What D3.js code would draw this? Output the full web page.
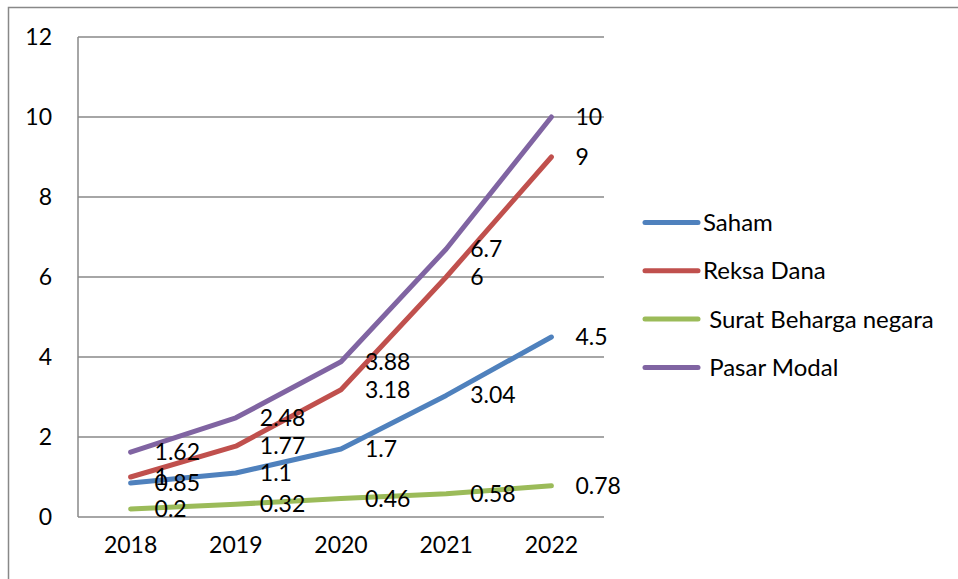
<!DOCTYPE html>
<meta charset="utf-8">
<style>
  body { margin: 0; background: #fff; }
  svg text { font-family: Lato, "Open Sans", sans-serif; fill: #000; }
  .grid line { stroke: #888; stroke-width: 1.5; }
  .series { fill: none; stroke-width: 5; stroke-linecap: round; stroke-linejoin: round; }
</style>
<body>
<script src="https://d3js.org/d3.v7.min.js"></script>
<script>
var years = ["2018", "2019", "2020", "2021", "2022"];
var saham = [0.85, 1.1, 1.7, 3.04, 4.5];
var reksaDana = [1, 1.77, 3.18, 6, 9];
var suratNegara = [0.2, 0.32, 0.46, 0.58, 0.78];
var pasarModal = [1.62, 2.48, 3.88, 6.7, 10];
var yTicks = [0, 2, 4, 6, 8, 10, 12];

var series = [
  {name: "Saham", values: saham, color: "#4F81BD"},
  {name: "Reksa Dana", values: reksaDana, color: "#C0504D"},
  {name: " Surat Beharga negara", values: suratNegara, color: "#9BBB59"},
  {name: " Pasar Modal", values: pasarModal, color: "#8064A2"}
];

var width = 958, height = 579;
var plot = {left: 78, right: 604, top: 37, bottom: 517};

var svg = d3.select("body").append("svg")
    .attr("width", width)
    .attr("height", height);

// outer frame (only left and top edges are visible)
svg.append("path")
    .attr("d", "M8.5," + height + "V7.5H" + width)
    .attr("fill", "none")
    .attr("stroke", "#888")
    .attr("stroke-width", 1.5);

var x = d3.scaleBand().domain(years).range([plot.left, plot.right]);
var y = d3.scaleLinear().domain([0, 12]).range([plot.bottom, plot.top]);

// gridlines
svg.append("g").attr("class", "grid")
  .selectAll("line")
    .data(yTicks)
  .enter().append("line")
    .attr("x1", plot.left)
    .attr("x2", plot.right)
    .attr("y1", function(d) { return y(d); })
    .attr("y2", function(d) { return y(d); });

svg.append("line")
    .attr("x1", plot.left).attr("x2", plot.left)
    .attr("y1", plot.top).attr("y2", plot.bottom)
    .attr("stroke", "#888").attr("stroke-width", 1.5);

// y axis
var yAxis = svg.append("g")
    .attr("transform", "translate(" + plot.left + ",0)")
    .call(d3.axisLeft(y).tickValues(yTicks).tickSize(0).tickPadding(26));
yAxis.select(".domain").remove();
yAxis.selectAll("text").attr("font-size", 23).attr("font-family", null);

// x axis
var xAxis = svg.append("g")
    .attr("transform", "translate(0," + plot.bottom + ")")
    .call(d3.axisBottom(x).tickSize(0).tickPadding(20));
xAxis.select(".domain").remove();
xAxis.selectAll("text").attr("font-size", 23).attr("font-family", null);

var line = d3.line()
    .x(function(d, i) { return x(years[i]) + x.bandwidth() / 2; })
    .y(function(d) { return y(d); });

svg.selectAll(".series")
    .data(series)
  .enter().append("path")
    .attr("class", "series")
    .attr("stroke", function(d) { return d.color; })
    .attr("d", function(d) { return line(d.values); });

// data labels, placed to the right of each point
series.forEach(function(s) {
  svg.append("g").selectAll("text")
      .data(s.values)
    .enter().append("text")
      .attr("x", function(d, i) { return x(years[i]) + x.bandwidth() / 2 + 24; })
      .attr("y", function(d) { return y(d); })
      .attr("dy", "0.35em")
      .attr("font-size", 23)
      .text(function(d) { return d; });
});

// legend
var legend = svg.append("g").selectAll("g")
    .data(series)
  .enter().append("g")
    .attr("transform", function(d, i) { return "translate(645," + (222.5 + i * 48.3) + ")"; });

legend.append("line")
    .attr("x1", 0).attr("x2", 53)
    .attr("stroke", function(d) { return d.color; })
    .attr("stroke-width", 5)
    .attr("stroke-linecap", "round");

legend.append("text")
    .attr("x", 58)
    .attr("dy", "0.35em")
    .attr("font-size", 24)
    .attr("xml:space", "preserve")
    .style("white-space", "pre")
    .text(function(d) { return d.name; });
</script>
</body>
</html>
